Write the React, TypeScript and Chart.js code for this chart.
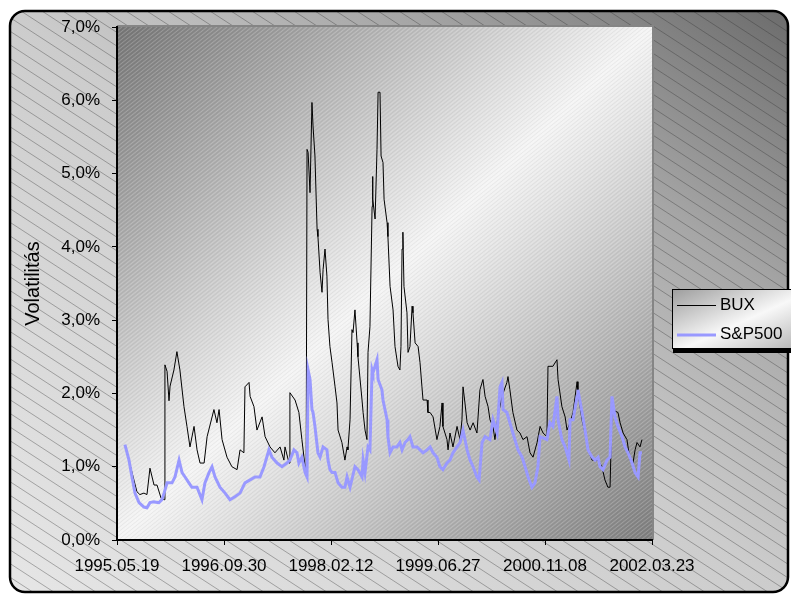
import React, { useEffect, useRef } from 'react';
import { Chart, registerables } from 'chart.js';

Chart.register(...registerables);

const W = 791;
const H = 598;

// x values are days counted from 1995.05.19; a label every 500 days
const tickLabels = ['1995.05.19', '1996.09.30', '1998.02.12', '1999.06.27', '2000.11.08', '2002.03.23'];
const tickStepDays = 500;
const seriesNames = ['BUX', 'S&P500'];
const seriesColors = ['#000000', '#9999ff'];
const yTitle = 'Volatilitás';

// [day, volatility %]
const buxPoints: [number, number][] = [
  [40, 1.28], [47, 1.19], [79, 0.82], [93, 0.66], [107, 0.62], [126, 0.64], [140, 0.62], [154, 0.98],
  [173, 0.75], [187, 0.75], [206, 0.57], [220, 0.55], [224, 2.39], [234, 2.30], [243, 1.90], [248, 2.10],
  [266, 2.32], [280, 2.57], [294, 2.32], [313, 1.82], [327, 1.55], [341, 1.27], [360, 1.55], [374, 1.23],
  [388, 1.05], [407, 1.05], [421, 1.41], [453, 1.78], [467, 1.60], [477, 1.78], [491, 1.37], [514, 1.13],
  [537, 1.00], [561, 0.96], [575, 1.23], [593, 1.19], [598, 2.09], [617, 2.15], [622, 1.96], [640, 1.82],
  [654, 1.50], [678, 1.68], [692, 1.41], [715, 1.27], [738, 1.19], [762, 1.27], [780, 1.09], [785, 1.27],
  [804, 1.05], [808, 2.01], [832, 1.91], [850, 1.74], [864, 1.37], [879, 1.00], [884, 0.95], [888, 5.33],
  [893, 5.29], [902, 4.74], [911, 5.97], [916, 5.65], [925, 5.24], [935, 4.24], [939, 4.14], [949, 3.65],
  [958, 3.38], [963, 3.69], [972, 3.97], [981, 3.60], [986, 3.01], [995, 2.64], [1005, 2.42], [1019, 2.09],
  [1028, 1.87], [1033, 1.50], [1051, 1.33], [1065, 1.09], [1075, 1.27], [1079, 1.23], [1089, 1.64], [1098, 2.87],
  [1103, 2.83], [1112, 3.14], [1122, 2.69], [1126, 2.50], [1145, 1.91], [1150, 1.74], [1159, 1.50], [1168, 1.37],
  [1173, 2.56], [1182, 2.91], [1192, 4.55], [1194, 4.96], [1196, 4.65], [1206, 4.38], [1215, 5.33], [1220, 6.11],
  [1229, 6.11], [1234, 5.24], [1243, 5.15], [1248, 4.65], [1262, 4.33], [1266, 4.14], [1276, 3.46], [1290, 3.14],
  [1299, 2.64], [1313, 2.37], [1322, 2.32], [1327, 2.64], [1332, 3.97], [1336, 4.20], [1341, 3.46], [1355, 3.10],
  [1360, 2.56], [1369, 2.64], [1379, 3.19], [1383, 3.10], [1393, 2.69], [1407, 2.64], [1416, 2.42], [1425, 2.09],
  [1430, 1.91], [1449, 1.91], [1453, 1.74], [1463, 1.74], [1477, 1.68], [1495, 1.37], [1509, 1.55], [1519, 1.87],
  [1523, 1.55], [1542, 1.37], [1547, 1.23], [1556, 1.46], [1570, 1.27], [1589, 1.55], [1603, 1.37], [1612, 1.64],
  [1617, 2.09], [1626, 1.87], [1636, 1.60], [1650, 1.50], [1664, 1.60], [1682, 1.46], [1696, 2.05], [1710, 2.19],
  [1720, 1.96], [1734, 1.82], [1743, 1.64], [1757, 1.55], [1766, 1.37], [1780, 1.68], [1799, 1.96], [1822, 2.15],
  [1827, 2.23], [1836, 2.05], [1850, 1.74], [1869, 1.50], [1883, 1.46], [1897, 1.37], [1916, 1.41], [1930, 1.19],
  [1944, 1.13], [1963, 1.33], [1977, 1.55], [1991, 1.46], [2009, 1.41], [2014, 2.37], [2037, 2.37], [2056, 2.46],
  [2061, 2.19], [2079, 1.82], [2094, 1.68], [2103, 1.50], [2117, 1.60], [2131, 1.74], [2150, 2.16], [2154, 2.01],
  [2173, 1.64], [2187, 1.46], [2201, 1.23], [2220, 1.09], [2248, 1.09], [2266, 1.00], [2280, 0.82], [2294, 0.72],
  [2304, 0.72], [2313, 1.78], [2341, 1.74], [2351, 1.60], [2365, 1.46], [2383, 1.37], [2397, 1.09], [2411, 1.05],
  [2421, 1.23], [2430, 1.33], [2444, 1.27], [2453, 1.37],
];

const spPoints: [number, number][] = [
  [37, 1.30], [56, 1.09], [70, 0.86], [84, 0.64], [103, 0.51], [126, 0.45], [140, 0.44], [154, 0.51],
  [173, 0.52], [196, 0.51], [210, 0.55], [220, 0.64], [234, 0.78], [257, 0.78], [271, 0.86], [290, 1.09],
  [304, 0.92], [318, 0.86], [336, 0.78], [350, 0.72], [374, 0.72], [397, 0.55], [411, 0.78], [430, 0.92],
  [444, 1.00], [458, 0.86], [481, 0.72], [505, 0.64], [528, 0.55], [551, 0.59], [575, 0.64], [598, 0.78],
  [622, 0.82], [645, 0.86], [668, 0.86], [687, 1.00], [710, 1.23], [724, 1.13], [748, 1.05], [771, 1.00],
  [794, 1.05], [808, 1.09], [827, 1.23], [841, 1.19], [850, 1.05], [864, 1.13], [879, 0.92], [888, 0.86],
  [893, 2.32], [902, 2.19], [911, 1.78], [916, 1.74], [925, 1.55], [939, 1.19], [949, 1.13], [963, 1.27],
  [981, 1.23], [986, 1.09], [995, 0.96], [1005, 0.92], [1019, 0.92], [1033, 0.78], [1051, 0.72], [1065, 0.72],
  [1075, 0.86], [1089, 0.72], [1112, 1.00], [1126, 0.96], [1145, 0.86], [1150, 1.09], [1159, 0.92], [1173, 1.27],
  [1182, 1.23], [1192, 2.32], [1196, 2.28], [1215, 2.46], [1220, 2.19], [1238, 2.05], [1243, 1.91], [1262, 1.64],
  [1266, 1.41], [1276, 1.19], [1290, 1.27], [1308, 1.27], [1322, 1.33], [1332, 1.23], [1346, 1.33], [1360, 1.37],
  [1369, 1.41], [1383, 1.27], [1402, 1.27], [1416, 1.23], [1430, 1.19], [1449, 1.23], [1463, 1.27], [1477, 1.19],
  [1495, 1.13], [1509, 1.00], [1523, 0.96], [1542, 1.05], [1556, 1.09], [1570, 1.19], [1589, 1.27], [1603, 1.33],
  [1617, 1.50], [1636, 1.23], [1650, 1.09], [1664, 1.00], [1682, 0.86], [1692, 0.82], [1706, 1.33], [1720, 1.41],
  [1743, 1.37], [1757, 1.64], [1776, 1.46], [1790, 2.09], [1799, 2.15], [1804, 1.78], [1822, 1.74], [1836, 1.60],
  [1850, 1.46], [1874, 1.23], [1893, 1.13], [1907, 1.00], [1921, 0.86], [1939, 0.72], [1953, 0.78], [1967, 1.00],
  [1977, 1.41], [2009, 1.37], [2023, 1.60], [2037, 1.55], [2056, 1.96], [2061, 1.64], [2079, 1.37], [2094, 1.27],
  [2112, 1.09], [2117, 1.64], [2131, 1.64], [2150, 1.96], [2154, 2.05], [2173, 1.74], [2187, 1.50], [2201, 1.23],
  [2220, 1.13], [2234, 1.09], [2248, 1.13], [2257, 1.00], [2271, 0.96], [2290, 1.09], [2304, 1.13], [2313, 1.96],
  [2327, 1.68], [2341, 1.55], [2360, 1.41], [2374, 1.27], [2388, 1.19], [2407, 1.05], [2421, 0.92], [2435, 0.86],
  [2444, 1.19], [2453, 1.19],
];

const FONT = "'Liberation Sans', Arial, sans-serif";

function gradTLBR(ctx: CanvasRenderingContext2D, x: number, y: number, w: number, h: number) {
  const cx = x + w / 2, cy = y + h / 2, k = (w * h) / (w * w + h * h);
  return ctx.createLinearGradient(cx - k * h, cy - k * w, cx + k * h, cy + k * w);
}
function gradTRBL(ctx: CanvasRenderingContext2D, x: number, y: number, w: number, h: number) {
  const cx = x + w / 2, cy = y + h / 2, k = (w * h) / (w * w + h * h);
  return ctx.createLinearGradient(cx + k * h, cy - k * w, cx - k * h, cy + k * w);
}
function roundRect(ctx: CanvasRenderingContext2D, x: number, y: number, w: number, h: number, r: number) {
  ctx.beginPath();
  ctx.moveTo(x + r, y);
  ctx.lineTo(x + w - r, y);
  ctx.arcTo(x + w, y, x + w, y + r, r);
  ctx.lineTo(x + w, y + h - r);
  ctx.arcTo(x + w, y + h, x + w - r, y + h, r);
  ctx.lineTo(x + r, y + h);
  ctx.arcTo(x, y + h, x, y + h - r, r);
  ctx.lineTo(x, y + r);
  ctx.arcTo(x, y, x + r, y, r);
  ctx.closePath();
}

const backgroundPlugin = {
  id: 'excelBackground',
  beforeDraw(chart: any) {
    const ctx: CanvasRenderingContext2D = chart.ctx;
    const { left, top, right, bottom } = chart.chartArea;
    ctx.save();
    ctx.fillStyle = '#ffffff';
    ctx.fillRect(0, 0, W, H);

    const ox = 10, oy = 11, ow = 778, oh = 581;
    ctx.save();
    roundRect(ctx, ox, oy, ow, oh, 15);
    ctx.clip();
    const og = gradTRBL(ctx, ox, oy, ow, oh);
    og.addColorStop(0, '#6c6c6c');
    og.addColorStop(0.25, '#a6a6a6');
    og.addColorStop(0.5, '#cccccc');
    og.addColorStop(1, '#e6e6e6');
    ctx.fillStyle = og;
    ctx.fillRect(0, 0, W, H);
    ctx.strokeStyle = 'rgba(50,50,50,0.36)';
    ctx.lineWidth = 1;
    ctx.beginPath();
    const slope = 0.65, step = 21;
    for (let x0 = -H / slope; x0 < W + step; x0 += step) {
      ctx.moveTo(x0, 0);
      ctx.lineTo(x0 + H / slope, H);
    }
    ctx.stroke();
    ctx.restore();

    roundRect(ctx, ox, oy, ow, oh, 15);
    ctx.strokeStyle = '#000';
    ctx.lineWidth = 2.5;
    ctx.stroke();

    const pw = right - left, ph = bottom - top;
    const pg = gradTLBR(ctx, left, top, pw, ph);
    pg.addColorStop(0, '#767676');
    pg.addColorStop(0.5, '#f5f5f5');
    pg.addColorStop(1, '#7e7e7e');
    ctx.fillStyle = pg;
    ctx.fillRect(left, top, pw, ph);
    ctx.save();
    ctx.beginPath();
    ctx.rect(left, top, pw, ph);
    ctx.clip();
    ctx.lineWidth = 1;
    ctx.strokeStyle = 'rgba(255,255,255,0.2)';
    ctx.beginPath();
    const s2 = 0.8, st2 = 5;
    for (let x0 = left - ph / s2; x0 < right + st2; x0 += st2) {
      ctx.moveTo(x0, bottom);
      ctx.lineTo(x0 + ph / s2, top);
    }
    ctx.stroke();
    ctx.strokeStyle = 'rgba(0,0,0,0.05)';
    ctx.beginPath();
    for (let x0 = left - ph / s2 + 2.5; x0 < right + st2; x0 += st2) {
      ctx.moveTo(x0, bottom);
      ctx.lineTo(x0 + ph / s2, top);
    }
    ctx.stroke();
    ctx.restore();
    ctx.fillStyle = '#858585';
    ctx.fillRect(left, top - 2, pw + 2, 2);
    ctx.fillRect(right, top - 2, 2, ph + 2);
    ctx.restore();
  },
};

const legendPlugin = {
  id: 'excelLegend',
  afterDraw(chart: any) {
    const ctx: CanvasRenderingContext2D = chart.ctx;
    const lx = 672, ly = 289, lw = 130, lh = 59;
    ctx.save();
    ctx.fillStyle = '#000';
    ctx.fillRect(lx + 1, ly + lh, lw, 5);
    const g = gradTLBR(ctx, lx, ly, lw, lh);
    g.addColorStop(0, '#9c9c9c');
    g.addColorStop(0.55, '#f8f8f8');
    g.addColorStop(1, '#b4b4b4');
    ctx.fillStyle = g;
    ctx.fillRect(lx, ly, lw, lh);
    ctx.strokeStyle = '#000';
    ctx.lineWidth = 1;
    ctx.strokeRect(lx + 0.5, ly + 0.5, lw, lh);
    const rows = [{ line: 305.5, base: 310 }, { line: 335, base: 339 }];
    chart.data.datasets.forEach((ds: any, i: number) => {
      const r = rows[i];
      ctx.strokeStyle = ds.borderColor;
      ctx.lineWidth = ds.borderWidth;
      ctx.beginPath();
      ctx.moveTo(677, r.line);
      ctx.lineTo(716, r.line);
      ctx.stroke();
      ctx.fillStyle = '#000';
      ctx.font = `17px ${FONT}`;
      ctx.textAlign = 'left';
      ctx.textBaseline = 'alphabetic';
      ctx.fillText(ds.label, 720, r.base);
    });
    ctx.restore();
  },
};

export default function App() {
  const ref = useRef<HTMLCanvasElement>(null);
  useEffect(() => {
    const canvas = ref.current;
    if (!canvas) return;
    Chart.defaults.font.family = FONT;
    Chart.defaults.color = '#000';
    const chart = new Chart(canvas, {
      type: 'line',
      data: {
        datasets: [
          {
            label: seriesNames[0],
            data: buxPoints.map(([x, y]) => ({ x, y })),
            borderColor: seriesColors[0],
            borderWidth: 1,
            pointRadius: 0,
            tension: 0,
            order: 1,
          },
          {
            label: seriesNames[1],
            data: spPoints.map(([x, y]) => ({ x, y })),
            borderColor: seriesColors[1],
            borderWidth: 3,
            pointRadius: 0,
            tension: 0,
            order: 0,
          },
        ],
      },
      options: {
        animation: false,
        responsive: false,
        devicePixelRatio: 1,
        layout: { padding: { left: 0, top: 27, right: 139, bottom: 0 } },
        plugins: { legend: { display: false }, tooltip: { enabled: false } },
        scales: {
          x: {
            type: 'linear',
            min: 0,
            max: tickStepDays * (tickLabels.length - 1),
            afterFit: (s: any) => { s.height = 58; },
            grid: { drawOnChartArea: false, tickLength: 5, tickColor: '#000', tickWidth: 1 },
            border: { color: '#000', width: 2 },
            ticks: {
              stepSize: tickStepDays,
              autoSkip: false,
              maxRotation: 0,
              padding: 11,
              color: '#000',
              font: { size: 17 },
              callback: (v: any) => tickLabels[Math.round(Number(v) / tickStepDays)] ?? '',
            },
          },
          y: {
            min: 0,
            max: 7,
            afterFit: (s: any) => { s.width = 117; },
            grid: { drawOnChartArea: false, tickLength: 5, tickColor: '#000', tickWidth: 1 },
            border: { color: '#000', width: 2 },
            title: { display: true, text: yTitle, color: '#000', font: { size: 20 }, padding: { top: 21, bottom: 0 } },
            ticks: {
              stepSize: 1,
              padding: 12,
              color: '#000',
              font: { size: 17 },
              callback: (v: any) => `${Number(v).toFixed(1).replace('.', ',')}%`,
            },
          },
        },
      },
      plugins: [backgroundPlugin, legendPlugin],
    } as any);
    return () => chart.destroy();
  }, []);
  return (
    <div style={{ position: 'fixed', left: 0, top: 0, width: W, height: H, background: '#fff' }}>
      <canvas ref={ref} width={W} height={H} style={{ display: 'block', width: W, height: H }} />
    </div>
  );
}
